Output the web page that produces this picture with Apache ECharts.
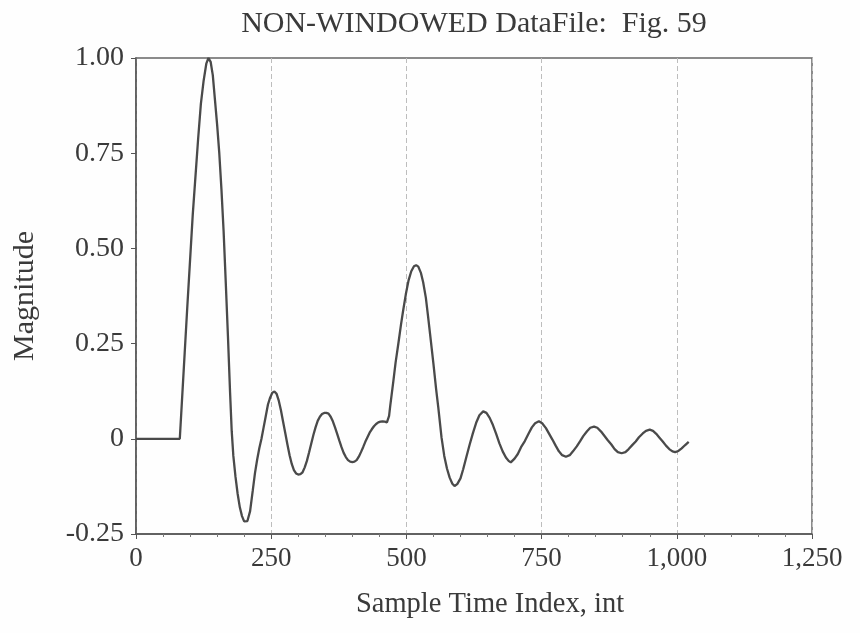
<!DOCTYPE html>
<html>
<head>
<meta charset="utf-8">
<title>NON-WINDOWED DataFile: Fig. 59</title>
<script src="https://cdn.jsdelivr.net/npm/echarts@6/dist/echarts.min.js"></script>
<style>
  html, body { margin: 0; padding: 0; background: #fefefe; }
  #chart { width: 860px; height: 633px; }
</style>
</head>
<body>
<div id="chart"></div>
<script>
// Sample indices of the traced waveform
const sampleIndex = [
  0, 40, 81, 85, 90, 95, 100, 105, 110, 115, 120, 125, 130, 134, 138, 142, 146, 150, 154, 158,
  162, 166, 170, 174, 177, 180, 184, 188, 192, 196, 200, 203, 206, 211, 216, 220, 224, 228, 232, 236,
  240, 244, 248, 252, 256, 260, 264, 268, 272, 276, 280, 284, 288, 292, 296, 300, 304, 308, 312, 316,
  320, 324, 328, 332, 336, 340, 344, 348, 352, 356, 360, 364, 368, 372, 376, 380, 384, 388, 392, 396,
  400, 404, 408, 412, 416, 420, 424, 428, 432, 436, 440, 444, 448, 452, 456, 460, 464, 466, 468, 470,
  476, 480, 485, 490, 494, 499, 504, 509, 514, 518, 522, 527, 531, 536, 540, 545, 550, 555, 559, 565,
  570, 575, 580, 585, 589, 594, 600, 605, 611, 617, 623, 629, 635, 642, 648, 654, 660, 666, 672, 678,
  684, 689, 693, 700, 706, 712, 719, 726, 732, 738, 745, 751, 758, 764, 770, 776, 782, 788, 795, 802,
  808, 815, 821, 827, 834, 840, 847, 853, 860, 866, 872, 879, 885, 891, 898, 905, 911, 918, 924, 930,
  937, 943, 950, 956, 962, 968, 974, 980, 986, 992, 997, 1003, 1009, 1015, 1022
];

// Magnitude at each sample index
const magnitude = [
  0, 0, 0, 0.10, 0.225, 0.35, 0.47, 0.59, 0.69, 0.79, 0.88, 0.94, 0.985, 1.0, 0.99, 0.955, 0.89, 0.825, 0.75, 0.655,
  0.545, 0.41, 0.27, 0.12, 0.02, -0.045, -0.10, -0.145, -0.18, -0.203, -0.217, -0.222, -0.216, -0.19, -0.135, -0.09, -0.055, -0.025, 0.0, 0.03,
  0.06, 0.09, 0.108, 0.121, 0.124, 0.118, 0.10, 0.075, 0.045, 0.015, -0.015, -0.043, -0.066, -0.082, -0.091, -0.094, -0.093, -0.088, -0.075, -0.058,
  -0.036, -0.013, 0.01, 0.03, 0.047, 0.058, 0.065, 0.068, 0.068, 0.066, 0.058, 0.046, 0.03, 0.013, -0.005, -0.022, -0.037, -0.048, -0.056, -0.06,
  -0.061, -0.06, -0.056, -0.047, -0.035, -0.022, -0.008, 0.004, 0.016, 0.025, 0.033, 0.039, 0.043, 0.045, 0.046, 0.045, 0.043, 0.042, 0.06, 0.085,
  0.153, 0.20, 0.249, 0.30, 0.337, 0.38, 0.416, 0.44, 0.453, 0.456, 0.452, 0.435, 0.411, 0.37, 0.322, 0.26, 0.197, 0.13, 0.082, 0.003,
  -0.045, -0.078, -0.102, -0.118, -0.124, -0.119, -0.104, -0.08, -0.047, -0.015, 0.015, 0.042, 0.062, 0.072, 0.068, 0.055, 0.036, 0.013, -0.012, -0.033,
  -0.049, -0.058, -0.062, -0.052, -0.040, -0.022, -0.006, 0.014, 0.030, 0.041, 0.046, 0.041, 0.028, 0.013, -0.002, -0.018, -0.033, -0.043, -0.047, -0.043,
  -0.033, -0.02, -0.007, 0.007, 0.02, 0.029, 0.032, 0.029, 0.019, 0.008, -0.003, -0.015, -0.027, -0.035, -0.038, -0.035, -0.027, -0.016, -0.007, 0.004,
  0.014, 0.021, 0.024, 0.021, 0.013, 0.003, -0.007, -0.018, -0.027, -0.033, -0.035, -0.032, -0.025, -0.017, -0.008
];

// Axis tick values
const xTicks = [0, 250, 500, 750, 1000, 1250];
const yTicks = [-0.25, 0, 0.25, 0.5, 0.75, 1.0];

const points = sampleIndex.map((x, i) => [x, magnitude[i]]);

const ink = '#3a3a3a';
const serif = '"Liberation Serif", "DejaVu Serif", serif';

const chart = echarts.init(document.getElementById('chart'), null, { renderer: 'canvas' });

chart.setOption({
  backgroundColor: '#fefefe',
  animation: false,
  title: {
    text: 'NON-WINDOWED DataFile:  Fig. 59',
    left: 469,
    top: 4,
    textAlign: 'center',
    textStyle: { fontFamily: serif, fontSize: 30, fontWeight: 'normal', color: ink }
  },
  grid: {
    left: 136, right: 48, top: 58, bottom: 99,
    show: true,
    borderColor: '#666',
    borderWidth: 1.5,
    backgroundColor: 'transparent'
  },
  xAxis: {
    type: 'value',
    min: xTicks[0],
    max: xTicks[xTicks.length - 1],
    interval: 250,
    name: 'Sample Time Index, int',
    nameLocation: 'middle',
    nameGap: 56,
    nameTextStyle: { fontFamily: serif, fontSize: 28.5, color: ink, padding: [0, 0, 0, 32] },
    axisLine: { onZero: false, lineStyle: { color: '#555', width: 1.5 } },
    axisTick: { show: true, length: 5, lineStyle: { color: '#555' } },
    minorTick: { show: true, splitNumber: 5, length: 3, lineStyle: { color: '#777' } },
    axisLabel: {
      fontFamily: serif, fontSize: 27, color: ink, margin: 11,
      formatter: v => xTicks.includes(v) ? v.toLocaleString('en-US') : ''
    },
    splitLine: { show: true, lineStyle: { color: '#bdbdbd', width: 1, type: [5, 3] } }
  },
  yAxis: {
    type: 'value',
    min: yTicks[0],
    max: yTicks[yTicks.length - 1],
    interval: 0.25,
    name: 'Magnitude',
    nameLocation: 'middle',
    nameGap: 96,
    nameRotate: 90,
    nameTextStyle: { fontFamily: serif, fontSize: 30, color: ink },
    axisLine: { show: true, onZero: false, lineStyle: { color: '#555', width: 1.5 } },
    axisTick: { show: true, length: 5, lineStyle: { color: '#555' } },
    axisLabel: {
      fontFamily: serif, fontSize: 28, color: ink, margin: 12,
      formatter: v => (v === 0 ? '0' : v.toFixed(2))
    },
    splitLine: { show: false }
  },
  series: [{
    type: 'line',
    data: points,
    showSymbol: false,
    smooth: false,
    lineStyle: { color: '#4a4a4a', width: 2.3 },
    clip: true
  }]
});
</script>
</body>
</html>
